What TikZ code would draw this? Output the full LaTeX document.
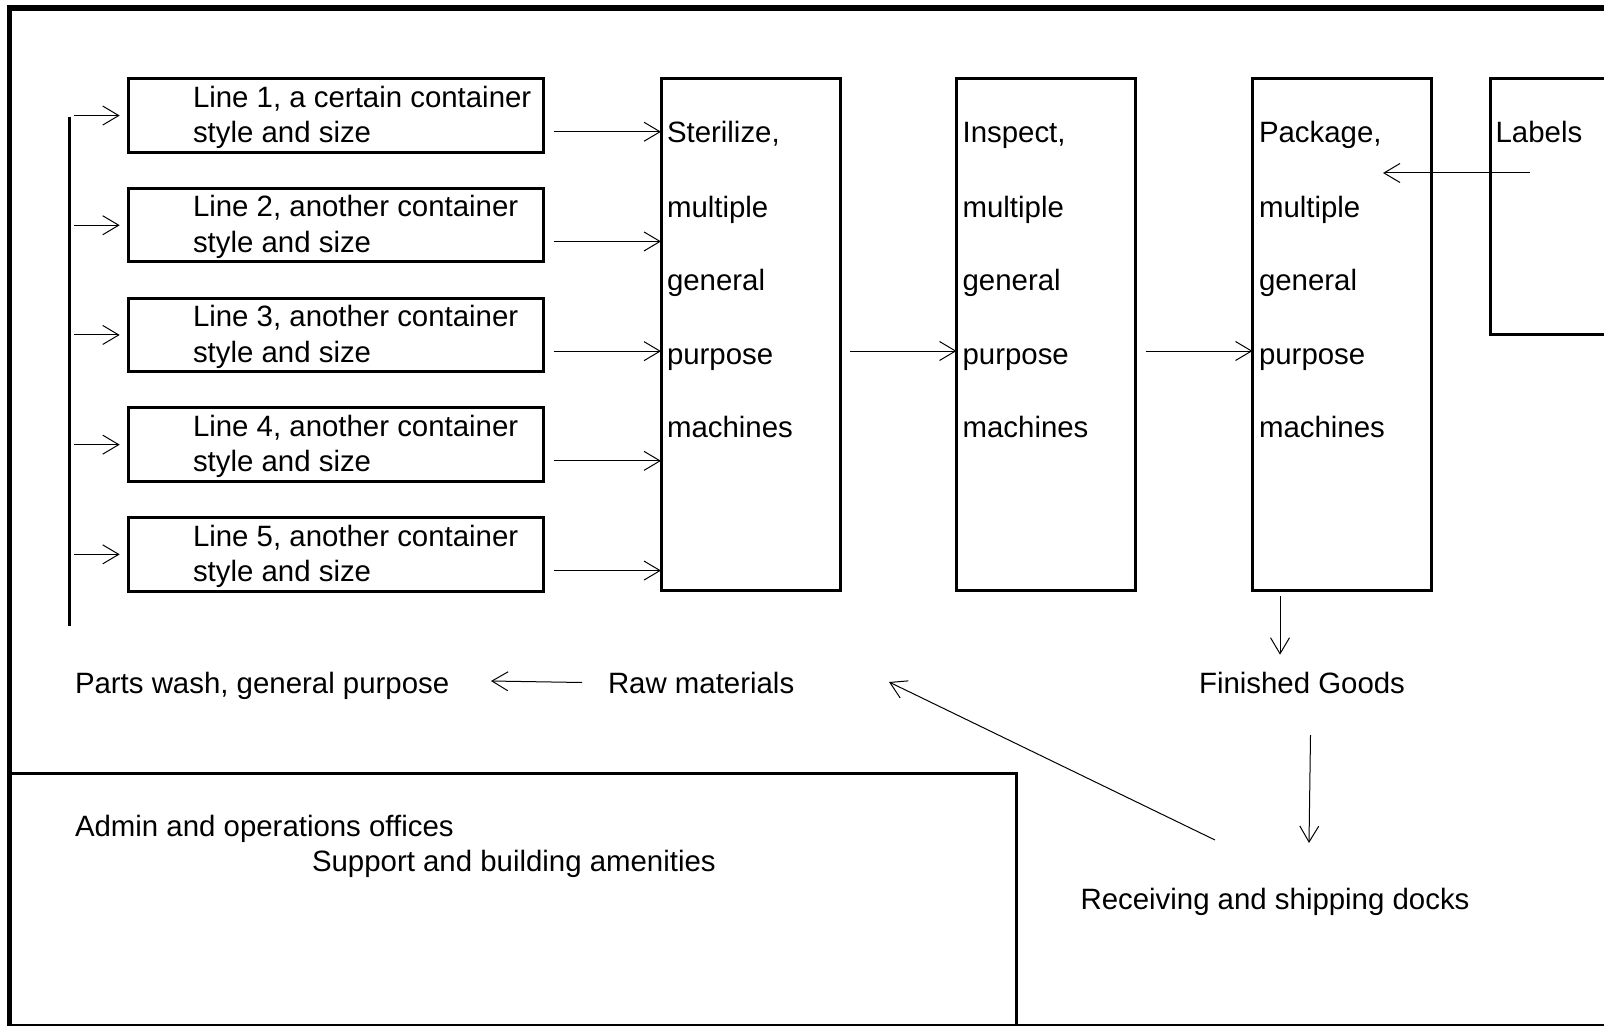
\documentclass[tikz,border=0pt]{standalone}
\usepackage{fontspec}
\setmainfont{Liberation Sans}
\usetikzlibrary{arrows.meta,calc}
\begin{document}
\begin{tikzpicture}[x=0.5pt,y=-0.5pt,
  every node/.style={inner sep=0pt, outer sep=0pt},
  txt/.style={anchor=base west, font=\fontsize{14.7pt}{18pt}\selectfont},
  ctxt/.style={anchor=base, font=\fontsize{14.7pt}{18pt}\selectfont},
  boxline/.style={draw, line width=1.5pt, rectangle},
  linebox/.style={boxline, minimum width=207.5pt, minimum height=36.75pt},
  machine/.style={boxline, minimum width=89.5pt, minimum height=255.5pt},
  arr/.style={-{Straight Barb[length=8pt,width=9.5pt]}, line width=0.5pt},
  frame/.style={line width=2.6pt, line join=miter},
]
\useasboundingbox (0,0) rectangle (1604,1026);
\clip (0,0) rectangle (1604,1026);

% building outline
\draw[frame] (9.5,1040) -- (9.5,8) -- (1620,8);
\draw[line width=1pt] (9.5,1025) -- (1620,1025);
% office block
\draw[line width=1.5pt] (9.5,773) -- (1016,773) -- (1016,1040);

% feed bar
\coordinate (barTop) at (69.6,116.6);
\coordinate (barBot) at (69.6,626);
\draw[line width=1.5pt] (barTop) -- (barBot);

% machine columns
\node[machine] (S) at (750.5,334.5) {};
\node[machine] (I) at (1046,334.5) {};
\node[machine] (P) at (1342,334.5) {};
\node[boxline, minimum width=100pt, minimum height=127.75pt] (Lab) at (1590.5,206.75) {};
\node[txt] (Labt) at (1495.6,143) {Labels};

\foreach \m/\x/\w in {S/667/{Sterilize,}, I/962.6/{Inspect,}, P/1259/{Package,}}{
  \node[txt] (\m t1) at (\x,143) {\w};
  \foreach \r/\yb/\word in {2/218/multiple,3/291/general,4/364.5/purpose,5/437.5/machines}{
    \node[txt] (\m t\r) at (\x,\yb) {\word};
  }
}

% production lines
\foreach \i/\first in {1/{Line 1, a certain container},2/{Line 2, another container},3/{Line 3, another container},4/{Line 4, another container},5/{Line 5, another container}}{
  \pgfmathsetmacro\ytop{78.8+(\i-1)*109.7}
  \node[linebox] (L\i) at (335.5,{\ytop+36.75}) {};
  \node[txt] (L\i a) at (193,{\ytop+28.5}) {\first};
  \node[txt] (L\i b) at (193,{\ytop+64}) {style and size};
  \coordinate (b\i) at (74,{\ytop+36.75});
  \draw[arr] (b\i) -- ([xshift=-4.15pt]L\i.west);
  \draw[arr] ([shift={(5.25pt,-8.1pt)}]L\i.east) coordinate (o\i) -- (o\i -| S.west);
}

% flow between machine columns
\draw[arr] ([shift={(5pt,-8.25pt)}]S.east) coordinate (m1) -- (m1 -| I.west);
\draw[arr] ([shift={(5pt,-8.25pt)}]I.east) coordinate (m2) -- (m2 -| P.west);

% labels into packaging
\coordinate (labOut) at (1530,173);
\coordinate (pkgIn) at (1383,173);
\draw[arr] (labOut) -- (pkgIn);

% lower area labels
\node[txt] (wash) at (75,693) {Parts wash, general purpose};
\node[txt] (raw) at (608,693) {Raw materials};
\node[ctxt] (fg) at (1302,693) {Finished Goods};
\node[ctxt] (docks) at (1275,909) {Receiving and shipping docks};
\node[txt] (admin) at (75,836) {Admin and operations offices};
\node[txt] (support) at (312,871.5) {Support and building amenities};

% material flow arrows
\coordinate (pkgOut) at (1280,596.4);
\coordinate (fgIn) at (1280,654.7);
\draw[arr] (pkgOut) -- (fgIn);
\coordinate (fgOut) at (1310.5,735);
\coordinate (docksIn) at (1309,843);
\draw[arr] (fgOut) -- (docksIn);
\coordinate (docksOut) at (1215,840);
\coordinate (rawIn) at (889,682);
\draw[arr] (docksOut) -- (rawIn);
\coordinate (rawOut) at (582,682.5);
\coordinate (washIn) at (491,681);
\draw[arr] (rawOut) -- (washIn);
\end{tikzpicture}
\end{document}
